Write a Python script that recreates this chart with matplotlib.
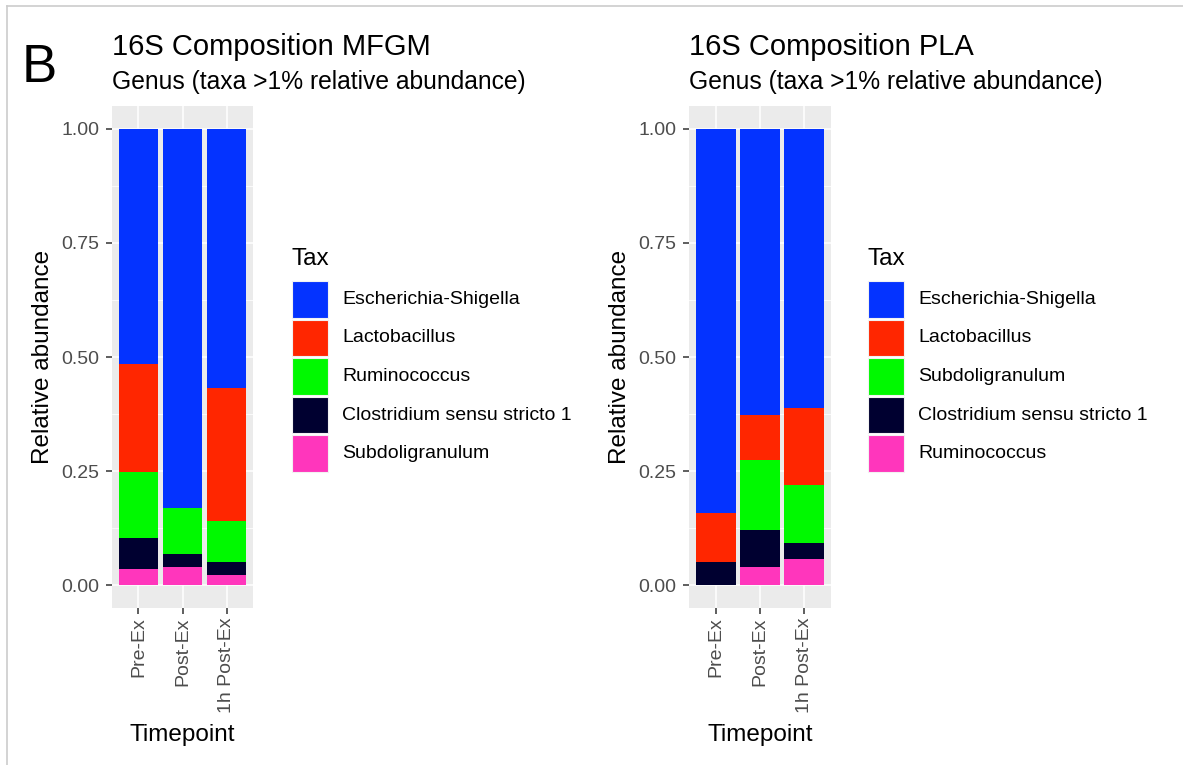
import numpy as np
import matplotlib
matplotlib.use("Agg")
from matplotlib import pyplot as plt
from matplotlib.patches import Rectangle
from matplotlib.lines import Line2D

plt.rcParams['font.family'] = ['Liberation Sans', 'DejaVu Sans']

W, H = 1183, 765

timepoints = ["Pre-Ex", "Post-Ex", "1h Post-Ex"]

# MFGM group, genus relative abundance (legend order = top of stack first)
mfgm_taxa = ["Escherichia-Shigella", "Lactobacillus", "Ruminococcus",
             "Clostridium sensu stricto 1", "Subdoligranulum"]
mfgm_escherichia = [0.516, 0.830, 0.569]
mfgm_lactobacillus = [0.237, 0.000, 0.291]
mfgm_ruminococcus = [0.144, 0.102, 0.089]
mfgm_clostridium = [0.067, 0.029, 0.029]
mfgm_subdoligranulum = [0.036, 0.039, 0.022]

# PLA group
pla_taxa = ["Escherichia-Shigella", "Lactobacillus", "Subdoligranulum",
            "Clostridium sensu stricto 1", "Ruminococcus"]
pla_escherichia = [0.841, 0.627, 0.612]
pla_lactobacillus = [0.108, 0.099, 0.168]
pla_subdoligranulum = [0.000, 0.154, 0.128]
pla_clostridium = [0.051, 0.081, 0.035]
pla_ruminococcus = [0.000, 0.039, 0.057]

palette = ["#0433FF", "#FF2600", "#00F900", "#000030", "#FF36BC"]


def fx(x):
    return x / W


def fy(y):
    return 1 - y / H


def px_axes(x0, y0, x1, y1):
    return [fx(x0), fy(y1), (x1 - x0) / W, (y1 - y0) / H]


def stacked_panel(rect, series, title, subtitle, taxa, legend_x):
    ax = fig.add_axes(px_axes(*rect))
    ax.set_facecolor("#EBEBEB")
    x = np.arange(1, len(timepoints) + 1)
    bottom = np.zeros(len(timepoints))
    # draw from the bottom of the stack upward
    for vals, col in reversed(list(zip(series, palette))):
        ax.bar(x, vals, width=0.9, bottom=bottom, color=col, linewidth=0, zorder=3)
        bottom += np.array(vals)
    ax.set_xlim(0.4, 3.6)
    ax.set_ylim(-0.05, 1.05)
    ax.set_yticks([0, 0.25, 0.5, 0.75, 1.0])
    ax.set_yticklabels(["0.00", "0.25", "0.50", "0.75", "1.00"])
    ax.set_yticks([0.125, 0.375, 0.625, 0.875], minor=True)
    ax.set_xticks(x)
    ax.set_xticklabels(timepoints, rotation=90, va="top", ha="center")
    ax.grid(which="major", color="white", linewidth=1.1, zorder=0)
    ax.grid(which="minor", axis="y", color="white", linewidth=0.55, zorder=0)
    ax.set_axisbelow(True)
    for s in ax.spines.values():
        s.set_visible(False)
    ax.tick_params(which="major", length=4, width=1.1, color="#333333",
                   labelcolor="#4D4D4D", labelsize=14, pad=3)
    ax.tick_params(axis="y", pad=5)
    ax.tick_params(which="minor", length=0)

    # axis titles
    x0, y0, x1, y1 = rect
    fig.text(fx(x0 - 69), fy((y0 + y1) / 2), "Relative abundance", fontsize=17.5,
             rotation=90, ha="center", va="center")
    fig.text(fx((x0 + x1) / 2), fy(741), "Timepoint", fontsize=17.5,
             ha="center", va="baseline")

    fig.text(fx(x0), fy(55), title, fontsize=21, ha="left", va="baseline")
    fig.text(fx(x0), fy(89), subtitle, fontsize=17.7, ha="left", va="baseline")

    # legend
    fig.text(fx(legend_x), fy(265), "Tax", fontsize=17.5, ha="left", va="baseline")
    key_top = 280
    key_h = 38.6
    for i, (name, col) in enumerate(zip(taxa, palette)):
        top = key_top + i * key_h
        fig.add_artist(Rectangle((fx(legend_x), fy(top + key_h - 1)),
                                 36 / W, (key_h - 2) / H, facecolor=col,
                                 edgecolor="#F2F2F2", linewidth=0.8,
                                 transform=fig.transFigure))
        fig.text(fx(legend_x + 50), fy(top + key_h / 2), name, fontsize=14,
                 ha="left", va="center")
    return ax


fig = plt.figure(figsize=(W / 100, H / 100), dpi=100)

mfgm_series = [mfgm_escherichia, mfgm_lactobacillus, mfgm_ruminococcus,
               mfgm_clostridium, mfgm_subdoligranulum]
pla_series = [pla_escherichia, pla_lactobacillus, pla_subdoligranulum,
              pla_clostridium, pla_ruminococcus]

stacked_panel((112, 106, 253, 608), mfgm_series, "16S Composition MFGM",
              "Genus (taxa >1% relative abundance)", mfgm_taxa, 292)
stacked_panel((689, 106, 831, 608), pla_series, "16S Composition PLA",
              "Genus (taxa >1% relative abundance)", pla_taxa, 868)

fig.text(fx(22), fy(82), "B", fontsize=38, ha="left", va="baseline")

# thin frame along the top and left edges
fig.add_artist(Line2D([fx(7), 1], [fy(6), fy(6)], color="#CCCCCC", linewidth=1.2,
                      transform=fig.transFigure))
fig.add_artist(Line2D([fx(7), fx(7)], [fy(6), 0], color="#CCCCCC", linewidth=1.2,
                      transform=fig.transFigure))

fig.savefig("out.png", dpi=100)
